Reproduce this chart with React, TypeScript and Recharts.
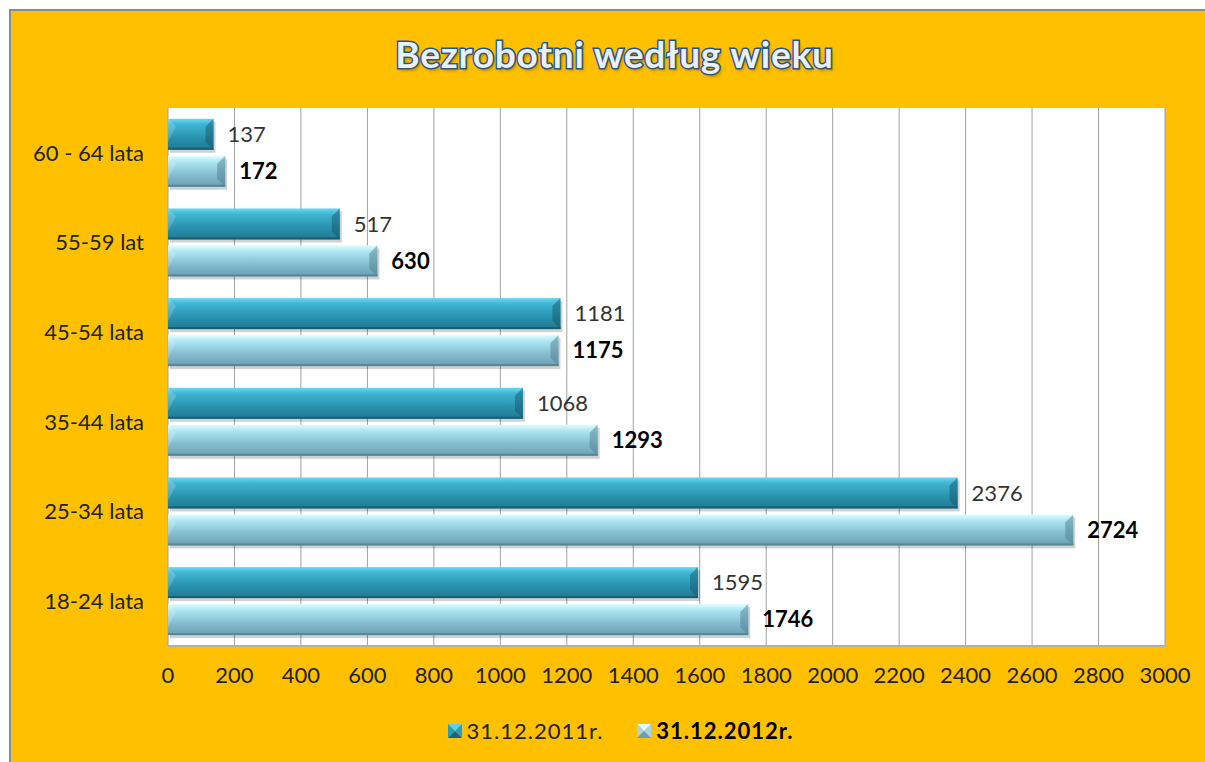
import React from "react";
import {
  BarChart,
  Bar,
  XAxis,
  YAxis,
  CartesianGrid,
  LabelList,
} from "recharts";

const AGE_GROUPS = [
  "60 - 64 lata",
  "55-59 lat",
  "45-54 lata",
  "35-44 lata",
  "25-34 lata",
  "18-24 lata",
];
const VALUES_2011 = [137, 517, 1181, 1068, 2376, 1595];
const VALUES_2012 = [172, 630, 1175, 1293, 2724, 1746];
const X_TICKS = [0, 200, 400, 600, 800, 1000, 1200, 1400, 1600, 1800, 2000, 2200, 2400, 2600, 2800, 3000];
const SERIES_NAMES = ["31.12.2011r.", "31.12.2012r."];

const data = AGE_GROUPS.map((age, i) => ({
  age,
  y2011: VALUES_2011[i],
  y2012: VALUES_2012[i],
}));

const FONT = "Lato, 'Open Sans', sans-serif";

// bevelled bar, like the Excel 3D preset
function BevelBar(props: any) {
  const { x, y, width, height, fill, edge } = props;
  if (width <= 0 || height <= 0) return null;
  const b = Math.min(8, width / 3, height / 3);
  return (
    <g>
      <rect x={x} y={y + 3} width={width} height={height} fill="rgba(0,0,0,0.18)" transform="translate(2,0)" />
      <rect x={x} y={y} width={width} height={height} fill={fill} />
      <polygon
        points={`${x + width - b},${y + b} ${x + width},${y} ${x + width},${y + height} ${x + width - b},${y + height - b}`}
        fill={edge}
        opacity={0.5}
      />
      <polygon
        points={`${x},${y} ${x + b},${y + b} ${x},${y + height - b}`}
        fill="#ffffff"
        opacity={0.18}
      />
      <rect x={x} y={y + height - 2} width={width} height={2} fill={edge} opacity={0.8} />
    </g>
  );
}

function LegendIcon({ light }: { light: boolean }) {
  const top = light ? "#e4fbff" : "#5fd0ea";
  const side = light ? "#a6d6e4" : "#2a9cbb";
  const bot = light ? "#6f9fae" : "#1a6479";
  return (
    <svg width={14} height={14} style={{ marginRight: 5 }}>
      <polygon points="0,0 14,0 7,7" fill={top} />
      <polygon points="0,0 7,7 0,14" fill={side} />
      <polygon points="14,0 14,14 7,7" fill={side} />
      <polygon points="0,14 14,14 7,7" fill={bot} />
    </svg>
  );
}

export default function App() {
  return (
    <div style={{ position: "absolute", left: 0, top: 0, width: 1205, height: 762, background: "#fff" }}>
      <div
        style={{
          position: "absolute",
          left: 9,
          top: 9,
          width: 1196,
          height: 753,
          background: "#FFC000",
          borderLeft: "2px solid #8c8c8c",
          borderTop: "2px solid #8c8c8c",
          boxSizing: "border-box",
        }}
      />
      <div
        style={{
          position: "absolute",
          left: 0,
          width: 1229,
          top: 31,
          textAlign: "center",
          fontFamily: FONT,
          fontWeight: 700,
          fontSize: 37,
          color: "#e9f1fb",
          WebkitTextStroke: "3px #1c51a3",
          paintOrder: "stroke fill",
          textShadow: "2px 3px 3px rgba(120,90,0,0.45)",
          letterSpacing: 0.8,
        }}
      >
        Bezrobotni według wieku
      </div>
      <div style={{ position: "absolute", left: 10, top: 10 }}>
        <BarChart
          width={1195}
          height={752}
          data={data}
          layout="vertical"
          margin={{ top: 98, right: 40, bottom: 76, left: 8 }}
          barCategoryGap="12%"
          barGap={6}
        >
          <defs>
            <linearGradient id="g2011" x1="0" y1="0" x2="0" y2="1">
              <stop offset="0" stopColor="#6ad8f0" />
              <stop offset="0.18" stopColor="#40b6d4" />
              <stop offset="0.6" stopColor="#2a93b0" />
              <stop offset="1" stopColor="#1f7990" />
            </linearGradient>
            <linearGradient id="g2012" x1="0" y1="0" x2="0" y2="1">
              <stop offset="0" stopColor="#e0fcff" />
              <stop offset="0.2" stopColor="#ace6f2" />
              <stop offset="0.6" stopColor="#86bed1" />
              <stop offset="1" stopColor="#6a9fb1" />
            </linearGradient>
          </defs>
          <CartesianGrid horizontal={false} stroke="#a0a0a0" fill="#ffffff" fillOpacity={1} />
          <XAxis
            type="number"
            domain={[0, 3000]}
            ticks={X_TICKS}
            interval={0}
            tickLine={false}
            axisLine={{ stroke: "#b0b0b0", strokeWidth: 2 }}
            tickSize={0}
            tickMargin={21}
            height={40}
            tick={{ fill: "#222", fontSize: 22, fontFamily: FONT }}
          />
          <YAxis
            type="category"
            dataKey="age"
            width={150}
            tickLine={false}
            axisLine={false}
            tickSize={0}
            tickMargin={24}
            tick={{ fill: "#222", fontSize: 22, fontFamily: FONT }}
          />
          <Bar
            dataKey="y2011"
            name={SERIES_NAMES[0]}
            fill="url(#g2011)"
            shape={(p: any) => <BevelBar {...p} edge="#15586b" />}
            isAnimationActive={false}
          >
            <LabelList
              dataKey="y2011"
              position="right"
              offset={14}
              style={{ fill: "#333", fontSize: 22, fontFamily: FONT }}
            />
          </Bar>
          <Bar
            dataKey="y2012"
            name={SERIES_NAMES[1]}
            fill="url(#g2012)"
            shape={(p: any) => <BevelBar {...p} edge="#4f8090" />}
            isAnimationActive={false}
          >
            <LabelList
              dataKey="y2012"
              position="right"
              offset={14}
              style={{ fill: "#000", fontSize: 22, fontWeight: 700, fontFamily: FONT }}
            />
          </Bar>
        </BarChart>
      </div>
      <div
        style={{
          position: "absolute",
          left: 0,
          width: 1241,
          top: 717,
          display: "flex",
          justifyContent: "center",
          alignItems: "center",
          fontFamily: FONT,
          fontSize: 22,
          letterSpacing: 1,
          color: "#222",
        }}
      >
        <span style={{ display: "flex", alignItems: "center", marginRight: 34 }}>
          <LegendIcon light={false} />
          {SERIES_NAMES[0]}
        </span>
        <span style={{ display: "flex", alignItems: "center", fontWeight: 700, color: "#000" }}>
          <LegendIcon light={true} />
          {SERIES_NAMES[1]}
        </span>
      </div>
    </div>
  );
}
